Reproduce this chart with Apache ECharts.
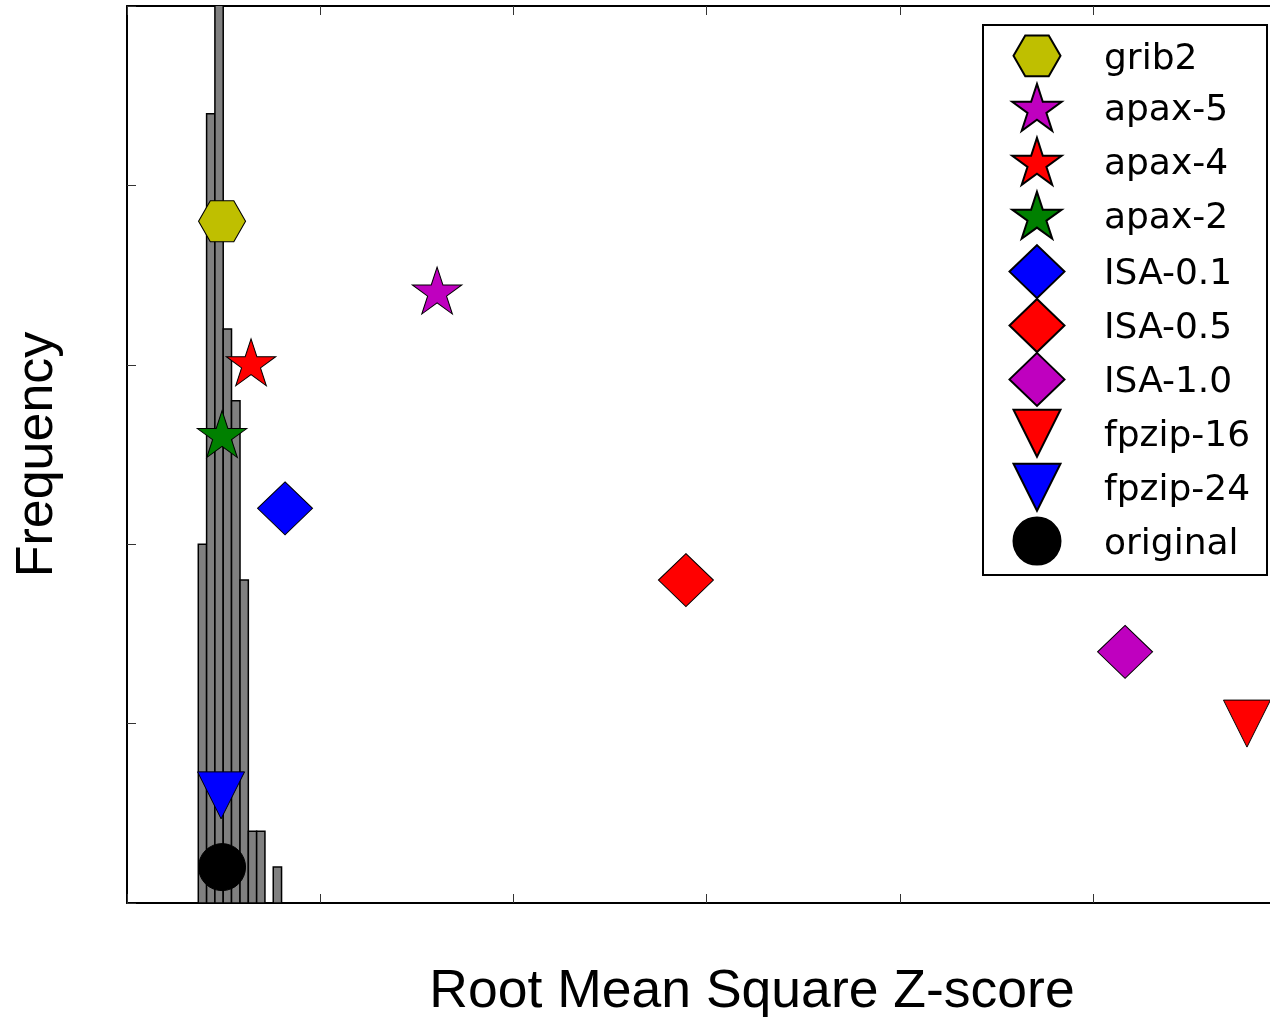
<!DOCTYPE html>
<html>
<head>
<meta charset="utf-8">
<script src="https://cdn.jsdelivr.net/npm/echarts@6/dist/echarts.min.js"></script>
<style>
  html, body { margin: 0; padding: 0; background: #fff; }
  #chart { width: 1270px; height: 1017px; }
</style>
</head>
<body>
<div id="chart"></div>
<script>
// histogram bins (left edge, right edge) and heights
const binLeft = [0.369, 0.412, 0.455, 0.498, 0.541, 0.585, 0.628, 0.671, 0.714, 0.757];
const binRight = [0.412, 0.455, 0.498, 0.541, 0.585, 0.628, 0.671, 0.714, 0.757, 0.800];
const binHeight = [2.0, 4.4, 5.6, 3.2, 2.8, 1.8, 0.4, 0.4, 0, 0.2];

// compressor markers
const names = ['grib2', 'apax-5', 'apax-4', 'apax-2', 'ISA-0.1', 'ISA-0.5', 'ISA-1.0', 'fpzip-16', 'fpzip-24', 'original'];
const xValues = [0.492, 1.605, 0.642, 0.492, 0.818, 2.893, 5.166, 5.797, 0.487, 0.492];
const yValues = [3.8, 3.4, 3.0, 2.6, 2.2, 1.8, 1.4, 1.0, 0.6, 0.2];

// styles
const colors = ['#bfbf00', '#bf00bf', '#ff0000', '#008000', '#0000ff', '#ff0000', '#bf00bf', '#ff0000', '#0000ff', '#000000'];
const kinds = ['hex', 'star', 'star', 'star', 'diamond', 'diamond', 'diamond', 'tri', 'tri', 'circle'];

const HEX = 'path://M-100,0 L-50,-86.6 L50,-86.6 L100,0 L50,86.6 L-50,86.6 Z';
const STAR = 'path://M0,-100 L22.45,-30.9 L95.11,-30.9 L36.33,11.8 L58.78,80.9 L0,38.2 L-58.78,80.9 L-36.33,11.8 L-95.11,-30.9 L-22.45,-30.9 Z';
const TRI = 'path://M-100,-100 L100,-100 L0,100 Z';
const shapes = {
  hex: { symbol: HEX, size: [47, 41], offset: [0, 0] },
  star: { symbol: STAR, size: [49.5, 47], offset: [0, -2.5] },
  diamond: { symbol: 'diamond', size: [55, 53], offset: [0, 0] },
  tri: { symbol: TRI, size: [47, 47], offset: [0, 0] },
  circle: { symbol: 'circle', size: [47, 47], offset: [0, 0] }
};

const chart = echarts.init(document.getElementById('chart'));

const series = [{
  type: 'custom',
  name: 'hist',
  clip: true,
  silent: true,
  data: binLeft.map((l, i) => [l, binRight[i], binHeight[i]]),
  encode: { x: [0, 1], y: 2 },
  renderItem: function (params, api) {
    const h = api.value(2);
    if (!h) return null;
    const p0 = api.coord([api.value(0), h]);
    const p1 = api.coord([api.value(1), 0]);
    return {
      type: 'rect',
      shape: { x: p0[0], y: p0[1], width: p1[0] - p0[0], height: p1[1] - p0[1] },
      style: { fill: '#808080', stroke: '#000', lineWidth: 1.5 }
    };
  },
  z: 1
}];

names.forEach(function (n, i) {
  const s = shapes[kinds[i]];
  series.push({
    type: 'scatter',
    name: n,
    symbol: s.symbol,
    symbolSize: s.size,
    symbolOffset: s.offset,
    symbolKeepAspect: false,
    itemStyle: { color: colors[i], borderColor: '#000', borderWidth: 1, opacity: 1 },
    data: [[xValues[i], yValues[i]]],
    z: 3 + i
  });
});

// one legend per entry so each marker keeps its own size
const legends = names.map(function (n, i) {
  const s = shapes[kinds[i]];
  const w = s.size[0], h = s.size[1];
  const cy = 55 + 53.9 * i + s.offset[1];
  return {
    data: [n],
    orient: 'vertical',
    left: 1036 - w / 2,
    top: cy - h / 2,
    itemWidth: w,
    itemHeight: h,
    padding: 0,
    selectedMode: false,
    formatter: '{t|{name}}',
    textStyle: {
      fontFamily: 'DejaVu Sans',
      fontSize: 36,
      color: '#000',
      padding: [0, 0, 0, 62 - w / 2],
      rich: {
        t: {
          fontFamily: 'DejaVu Sans',
          fontSize: 36,
          color: '#000',
          padding: [7, 0, 0, 0]
        }
      }
    }
  };
});

const axisCommon = {
  type: 'value',
  axisLine: { show: true, lineStyle: { color: '#000', width: 2 } },
  axisTick: { show: true, inside: true, length: 9, lineStyle: { color: '#333', width: 1 } },
  axisLabel: { show: false },
  splitLine: { show: false }
};

// the plot runs past the right edge of the picture (cropped figure)
chart.setOption({
  backgroundColor: '#fff',
  animation: false,
  grid: { left: 127, top: 6, right: -107, bottom: 114, outerBoundsMode: 'none', containLabel: false },
  legend: legends,
  xAxis: [
    Object.assign({}, axisCommon, {
      position: 'bottom', min: 0, max: 6.47, interval: 1,
      name: 'Root Mean Square Z-score',
      nameLocation: 'middle',
      nameGap: 62,
      nameTextStyle: { fontFamily: 'Liberation Sans', fontSize: 53.5, color: '#000' }
    }),
    Object.assign({}, axisCommon, { position: 'top', min: 0, max: 6.47, interval: 1 })
  ],
  yAxis: [
    Object.assign({}, axisCommon, {
      position: 'left', min: 0, max: 5, interval: 1,
      name: 'Frequency',
      nameLocation: 'middle',
      nameGap: 63,
      nameTextStyle: { fontFamily: 'Liberation Sans', fontSize: 52, color: '#000' }
    })
  ],
  graphic: [{
    type: 'rect',
    shape: { x: 983, y: 25, width: 284, height: 550 },
    style: { fill: 'none', stroke: '#000', lineWidth: 2 },
    z: 0
  }],
  series: series
});
</script>
</body>
</html>
